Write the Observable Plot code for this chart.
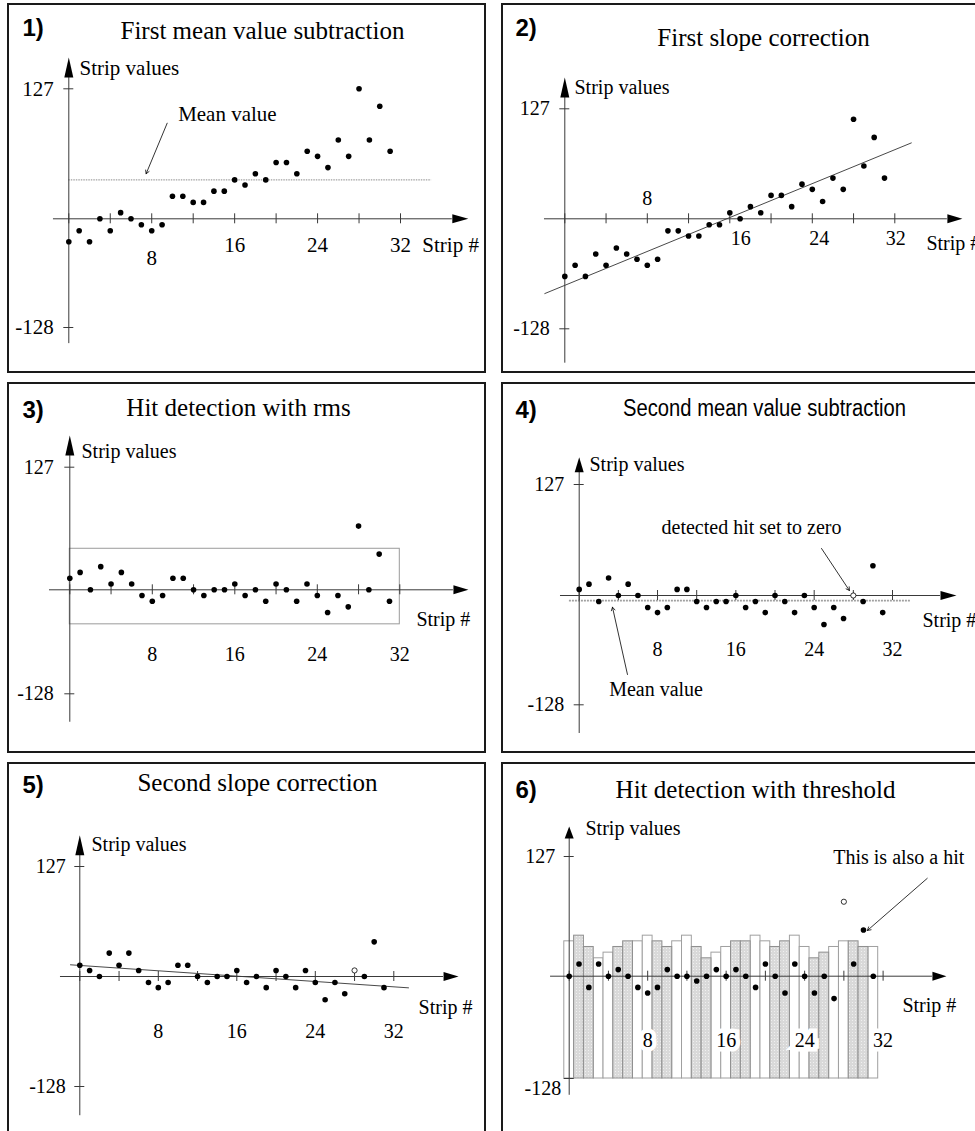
<!DOCTYPE html>
<html>
<head>
<meta charset="utf-8">
<script src="https://cdn.jsdelivr.net/npm/d3@7"></script>
<script src="https://cdn.jsdelivr.net/npm/@observablehq/plot@0.6"></script>
<style>
html, body { margin: 0; padding: 0; background: #fff; overflow: hidden; }
#page { position: relative; width: 975px; height: 1131px; overflow: hidden; background: #fff; }
.panel { position: absolute; overflow: hidden; }
.panel svg { position: absolute; left: 0; top: 0; max-width: none !important; }
.frame { position: absolute; left: 0; top: 0; right: 0; bottom: 0; border: 2px solid #1a1a1a; box-sizing: border-box; pointer-events: none; }
</style>
</head>
<body>
<div id="page"></div>
<script>
// ---------- data ----------
const strips = [0,1,2,3,4,5,6,7,8,9,10,11,12,13,14,15,16,17,18,19,20,21,22,23,24,25,26,27,28,29,30,31];
const xTicks = [0,4,8,12,16,20,24,28,32];
const xTickLabels = [8,16,24,32];
const yTicks = [-128,127];
const panelNumbers = ["1)","2)","3)","4)","5)","6)"];
const panelTitles = ["First mean value subtraction","First slope correction","Hit detection with rms","Second mean value subtraction","Second slope correction","Hit detection with threshold"];
const yAxisTitle = "Strip values";
const xAxisTitle = "Strip #";

const p1Values = [-27,-14,-27,0,-14,6,0,-7,-14,-7,22,22,16,16,27,27,38,33,44,38,55,55,44,66,61,50,77,61,127,77,110,66];
const p1Mean = 38;
const p1MeanSpan = [0, 35];
const p1Notes = [{text: "Mean value", x: 15.3, y: 102}];
const p1Pointers = [{x1: 9.49, y1: 93.4, x2: 7.46, y2: 44}];

const p2Values = [-67,-54,-67,-41,-54,-34,-41,-47,-54,-47,-14,-14,-20,-20,-7,-7,7,0,14,7,27,27,14,40,34,20,47,34,115,61,94,47];
const p2Fit = [{strip: -1.94, value: -87}, {strip: 33.6, value: 87.6}];

const p3Values = [12,18,0,24,6,18,6,-7,-14,-7,12,12,0,-7,0,0,6,-7,0,-14,6,0,-14,6,-7,-28,-7,-21,66,0,37,-14];
const p3Rms = 42.5;
const p3RmsSpan = [0, 32];

const p4Values = [7,13,-7,20,0,13,0,-14,-20,-14,7,7,-7,-14,-7,-7,0,-14,-7,-20,0,-7,-20,0,-14,-34,-14,-27,0,-7,34,-20];
const p4Mean = -6;
const p4MeanSpan = [-1, 33.9];
const p4ZeroedStrip = 28;
const p4Notes = [{text: "Mean value", x: 7.85, y: -110}, {text: "detected hit set to zero", x: 17.6, y: 77.8}];
const p4Pointers = [{x1: 4.93, y1: -92.5, x2: 3.4, y2: -13.7}, {x1: 24.75, y1: 53.8, x2: 27.6, y2: 5.7}];

const p5Values = [13,7,0,27,13,27,7,-7,-13,-7,13,13,0,-7,0,0,7,-7,0,-13,7,0,-13,7,-7,-27,-7,-20,7,0,40,-13];
const p5Fit = [{strip: -0.95, value: 13.5}, {strip: 33.5, value: -13.2}];
const p5ZeroedStrip = 28;

const p6Values = [0,13,-14,13,0,7,0,-14,-21,-14,7,0,0,-6,0,7,0,7,0,-14,13,0,-21,13,0,-21,0,-28,79,13,49,0];
const p6Thresholds = [37,43,31,19,25,31,37,37,43,37,31,37,43,31,19,25,31,37,37,43,37,31,37,43,31,19,25,31,37,37,31,31];
const p6OpenStrip = 28;
const p6Notes = [{text: "This is also a hit", x: 33.6, y: 126}];
const p6Pointers = [{x1: 36.5, y1: 103.8, x2: 30.4, y2: 48.5}];

// ---------- layout (pixels) ----------
const SERIF = "'Liberation Serif','Times New Roman',serif";
const SANS = "'Liberation Sans',Arial,sans-serif";
const AX = "#3a3a3a";

const layouts = [
  {left: 7, top: 3, w: 479, h: 370, xr: [61.3, 393], yr: [324, 215.3, 85.3], xAxis: [-1.48, 37], yAxis: [-147, 138],
   uLen: 20, rLen: 16, nX: 15, nY: 32, tX: 255, tY: 35.3, tFont: SERIF, tSize: 25,
   ylDx: [-15, -15], ylDy: [0, 0], xlDx: [0, 0, 0, 0], xlDy: [39, 26, 26, 26], svDx: 10.7, svDy: -9, snDx: -30, snDy: 26, fs: 21},
  {left: 501, top: 3, w: 500, h: 370, xr: [63.3, 393.3], yr: [325.3, 215.3, 105.3], xAxis: [-1.97, 37.1], yAxis: [-168, 140],
   uLen: 20, rLen: 15, nX: 14, nY: 32, tX: 262, tY: 42, tFont: SERIF, tSize: 25,
   ylDx: [-15, -15], ylDy: [0, 0], xlDx: [0, 11, 7, 1], xlDy: [-20, 20, 20, 20], svDx: 9.7, svDy: -10, snDx: -21, snDy: 25, fs: 20},
  {left: 7, top: 382, w: 479, h: 371, xr: [62.3, 392.3], yr: [311.3, 207.3, 84.7], xAxis: [-1.97, 37.2], yAxis: [-163, 139],
   uLen: 20, rLen: 15, nX: 15, nY: 35, tX: 231, tY: 33, tFont: SERIF, tSize: 25,
   ylDx: [-16, -16], ylDy: [0, 0], xlDx: [0, 0, 0, 0], xlDy: [65, 65, 65, 65], svDx: 11.7, svDy: -4, snDx: -37, snDy: 30, fs: 20},
  {left: 501, top: 382, w: 500, h: 371, xr: [77.7, 391], yr: [322.3, 213, 102], xAxis: [-1.91, 36.9], yAxis: [-161.6, 141],
   uLen: 15, rLen: 16, nX: 14, nY: 35, tX: 263, tY: 33, tFont: SANS, tSize: 23, tLen: 283,
   ylDx: [-15, -15], ylDy: [0, 0], xlDx: [0, 0, 0, 0], xlDy: [54, 54, 54, 54], svDx: 10.3, svDy: -8, snDx: -18, snDy: 25, fs: 20},
  {left: 7, top: 762, w: 479, h: 400, xr: [72.3, 386.3], yr: [324, 214, 104], xAxis: [-1.97, 37.07], yAxis: [-162, 140],
   uLen: 20, rLen: 15, nX: 15, nY: 30, tX: 250, tY: 28.7, tFont: SERIF, tSize: 25,
   ylDx: [-14, -14], ylDy: [0, 0], xlDx: [0, 0, 0, 0], xlDy: [55, 55, 55, 55], svDx: 11.7, svDy: -11, snDx: -25, snDy: 31, fs: 20},
  {left: 501, top: 762, w: 500, h: 400, xr: [67.7, 381.6], yr: [316, 213.7, 94], xAxis: [-1.9, 37.03], yAxis: [-149, 146],
   uLen: 12, rLen: 14, nX: 14, nY: 35, tX: 254, tY: 35.3, tFont: SERIF, tSize: 25,
   ylDx: [-8, -14], ylDy: [10, 0], xlDx: [0, 0, 0, 0], xlDy: [64, 64, 64, 64], svDx: 16.3, svDy: -10, snDx: -30, snDy: 29, fs: 20, halo: true}
];

function upArrow(len, hw) { return {draw(c) { c.moveTo(-hw, 0); c.lineTo(0, -len); c.lineTo(hw, 0); c.closePath(); }}; }
function rightArrow(len, hw) { return {draw(c) { c.moveTo(0, -hw); c.lineTo(len, 0); c.lineTo(0, hw); c.closePath(); }}; }

function txt(data, L, o) {
  return Plot.text(data, {text: d => String(d), fontFamily: SERIF, fontSize: L.fs, fill: "#000", lineAnchor: "middle", ...o});
}

function buildPanel(i, values, openStrip, under, over) {
  const L = layouts[i];
  const marks = [
    ...under,
    Plot.ruleY([0], {x1: L.xAxis[0], x2: L.xAxis[1], stroke: AX, strokeWidth: 1}),
    Plot.ruleX([0], {y1: L.yAxis[0], y2: L.yAxis[1], stroke: AX, strokeWidth: 1}),
    Plot.ruleX(xTicks, {x: d => d, y1: 0, y2: 0, insetTop: -5, insetBottom: -5, stroke: AX, strokeWidth: 1}),
    Plot.ruleY(yTicks, {y: d => d, x1: 0, x2: 0, insetLeft: -5, insetRight: -5, stroke: AX, strokeWidth: 1}),
    Plot.dot([L.xAxis[1]], {x: d => d, y: 0, symbol: rightArrow(L.rLen, 4.5), fill: "#000", stroke: "none"}),
    Plot.dot([L.yAxis[1]], {x: 0, y: d => d, symbol: upArrow(L.uLen, 4.5), fill: "#000", stroke: "none"}),
    Plot.dot(strips.filter(s => s !== openStrip), {x: s => s, y: s => values[s], r: 2.8, fill: "#000", stroke: "none"})
  ];
  if (openStrip != null) {
    marks.push(Plot.dot([openStrip], {x: s => s, y: s => values[s], r: 2.6, fill: "#fff", stroke: "#000", strokeWidth: 0.8}));
  }
  yTicks.forEach((t, k) => marks.push(txt([t], L, {x: 0, y: d => d, dx: L.ylDx[k], dy: L.ylDy[k], textAnchor: "end"})));
  xTickLabels.forEach((t, k) => {
    if (L.halo) marks.push(txt([t], L, {x: d => d, y: 0, dx: L.xlDx[k], dy: L.xlDy[k], fill: "#fff", stroke: "#fff", strokeWidth: 9, strokeLinejoin: "miter"}));
    marks.push(txt([t], L, {x: d => d, y: 0, dx: L.xlDx[k], dy: L.xlDy[k]}));
  });
  marks.push(txt([yAxisTitle], L, {x: 0, y: L.yAxis[1], dx: L.svDx, dy: L.svDy, textAnchor: "start"}));
  marks.push(txt([xAxisTitle], L, {x: L.xAxis[1], y: 0, dx: L.snDx, dy: L.snDy, textAnchor: "start"}));
  marks.push(Plot.text([panelTitles[i]], {frameAnchor: "top-left", dx: L.tX, dy: L.tY, text: d => d, textAnchor: "middle", lineAnchor: "bottom", fontFamily: L.tFont, fontSize: L.tSize, fill: "#000"}));
  marks.push(Plot.text([panelNumbers[i]], {frameAnchor: "top-left", dx: L.nX, dy: L.nY, text: d => d, textAnchor: "start", lineAnchor: "bottom", fontFamily: SANS, fontWeight: "bold", fontSize: 24, fill: "#000"}));
  marks.push(...over);

  const svg = Plot.plot({
    width: L.w, height: L.h, margin: 0,
    x: {type: "linear", domain: [0, 32], range: L.xr, axis: null},
    y: {type: "linear", domain: [-128, 0, 127], range: L.yr, axis: null},
    style: {background: "#fff"},
    marks
  });

  const div = document.createElement("div");
  div.className = "panel";
  div.style.left = L.left + "px";
  div.style.top = L.top + "px";
  div.style.width = L.w + "px";
  div.style.height = L.h + "px";
  div.appendChild(svg);
  const frame = document.createElement("div");
  frame.className = "frame";
  div.appendChild(frame);
  document.getElementById("page").appendChild(div);

  if (L.tLen) {
    d3.select(svg).selectAll("text").filter(function() { return this.textContent === panelTitles[i]; })
      .attr("textLength", L.tLen).attr("lengthAdjust", "spacingAndGlyphs");
  }
  return svg;
}

function notes(list, L) {
  return list.map(n => txt([n], L, {x: d => d.x, y: d => d.y, text: d => d.text}));
}
function pointers(list) {
  return Plot.arrow(list, {x1: "x1", y1: "y1", x2: "x2", y2: "y2", stroke: "#000", strokeWidth: 0.8, headLength: 7});
}

// Panel 1
buildPanel(0, p1Values, null,
  [Plot.ruleY([p1Mean], {x1: p1MeanSpan[0], x2: p1MeanSpan[1], stroke: "#8a8a8a", strokeWidth: 1, strokeDasharray: "1.5,1"})],
  [...notes(p1Notes, layouts[0]), pointers(p1Pointers)]);

// Panel 2
buildPanel(1, p2Values, null,
  [Plot.line(p2Fit, {x: "strip", y: "value", stroke: "#333", strokeWidth: 0.9})],
  []);

// Panel 3
buildPanel(2, p3Values, null,
  [Plot.rect([p3Rms], {x1: p3RmsSpan[0], x2: p3RmsSpan[1], y1: d => -d, y2: d => d, fill: "none", stroke: "#9a9a9a", strokeWidth: 1})],
  []);

// Panel 4
buildPanel(3, p4Values, p4ZeroedStrip,
  [Plot.ruleY([p4Mean], {x1: p4MeanSpan[0], x2: p4MeanSpan[1], stroke: "#a0a0a0", strokeWidth: 1.6, strokeDasharray: "2,1"})],
  [...notes(p4Notes, layouts[3]), pointers(p4Pointers)]);

// Panel 5
buildPanel(4, p5Values, p5ZeroedStrip,
  [Plot.line(p5Fit, {x: "strip", y: "value", stroke: "#333", strokeWidth: 0.9})],
  []);

// Panel 6
const p6Bars = strips.map(s => ({strip: s, thr: p6Thresholds[s], shaded: Math.floor((s + 1) / 2) % 2 === 1}));
const svg6 = buildPanel(5, p6Values, p6OpenStrip,
  [
    Plot.rect(p6Bars.filter(d => !d.shaded), {x1: d => d.strip - 0.5, x2: d => d.strip + 0.5, y1: -128, y2: "thr", fill: "#fff", stroke: "#a0a0a0", strokeWidth: 1}),
    Plot.rect(p6Bars.filter(d => d.shaded), {x1: d => d.strip - 0.5, x2: d => d.strip + 0.5, y1: -128, y2: "thr", fill: "url(#p6dots)", stroke: "#8f8f8f", strokeWidth: 1})
  ],
  [...notes(p6Notes, layouts[5]), pointers(p6Pointers)]);

const defs = d3.select(svg6).insert("defs", ":first-child");
const pat = defs.append("pattern").attr("id", "p6dots").attr("width", 3).attr("height", 3).attr("patternUnits", "userSpaceOnUse");
pat.append("rect").attr("width", 3).attr("height", 3).attr("fill", "#d9d9d9");
pat.append("rect").attr("width", 1).attr("height", 1).attr("fill", "#f0f0f0");
</script>
</body>
</html>
